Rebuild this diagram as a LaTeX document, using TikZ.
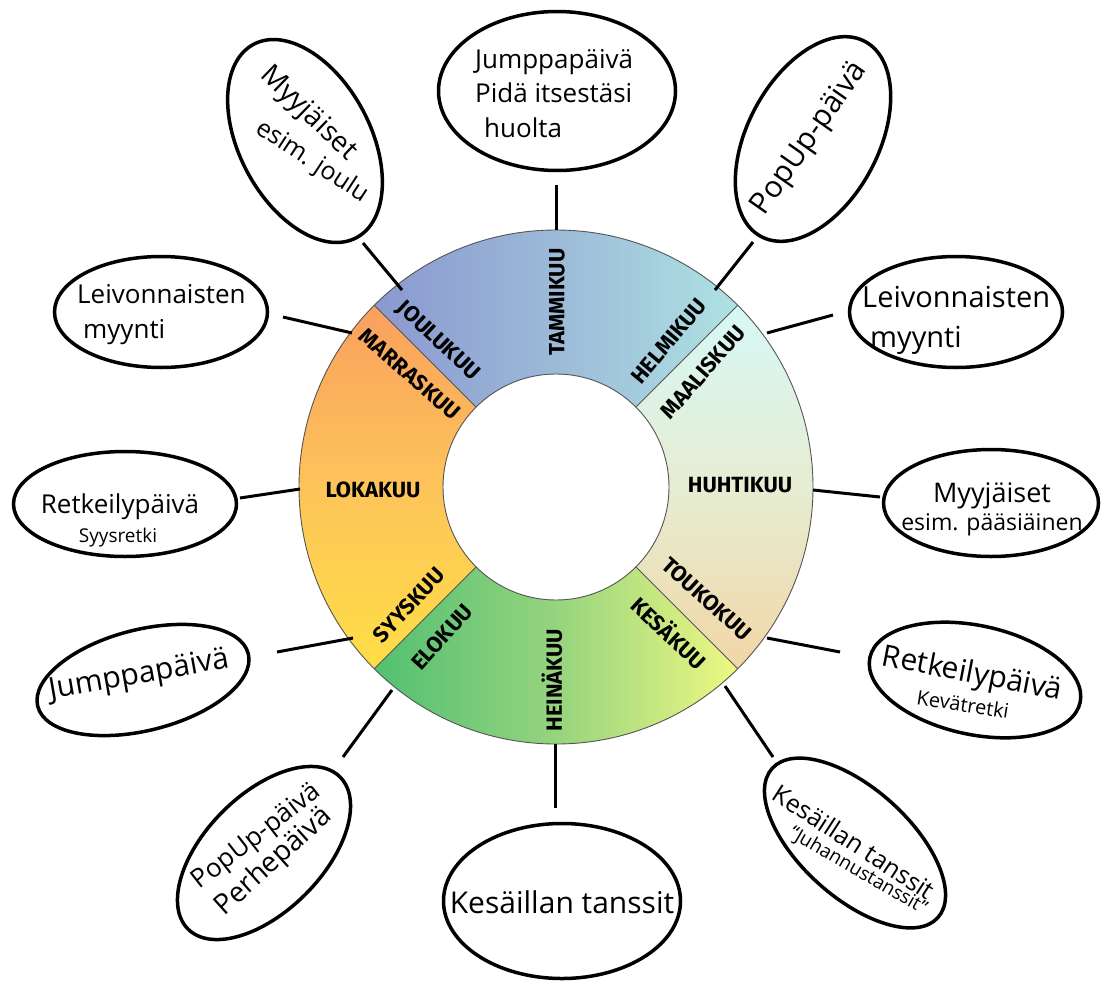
\documentclass[tikz,border=0pt]{standalone}
\usepackage{fontspec}
\setmainfont{Open Sans}
\newfontfamily\monthfont{Fira Sans}
\usetikzlibrary{shapes.geometric}
\definecolor{topL}{HTML}{8A98D0}
\definecolor{topM}{HTML}{9CBAD8}
\definecolor{topR}{HTML}{AEE2E2}
\definecolor{rgtT}{HTML}{D6F8F6}
\definecolor{rgtM}{HTML}{E6EDD2}
\definecolor{rgtB}{HTML}{F2D6A6}
\definecolor{botL}{HTML}{52C072}
\definecolor{botM}{HTML}{96D47E}
\definecolor{botR}{HTML}{EEF882}
\definecolor{lftT}{HTML}{F9A05E}
\definecolor{lftM}{HTML}{FDC45A}
\definecolor{lftB}{HTML}{FFDE46}
\definecolor{ringline}{HTML}{555555}
\begin{document}
\begin{tikzpicture}[x=1pt,y=1pt,
  bubble/.style={draw=black, line width=3.5pt, ellipse, inner sep=0pt},
  conn/.style={line width=3pt, black},
  month/.style={font=\monthfont\bfseries\fontsize{22}{22}\selectfont, inner sep=0pt},
  txt/.style={inner sep=0pt},
  sz/.style={font=\fontsize{#1}{#1}\selectfont}
]
\useasboundingbox (0,0) rectangle (1107,-982);
\fill[white] (0,0) rectangle (1107,-982);

% ring
\begin{scope}[shift={(556,-487)}]
\shade[left color=topL, right color=topR, middle color=topM]
  (45:257) arc[start angle=45,end angle=135,radius=257] -- (135:113) arc[start angle=135,end angle=45,radius=113] -- cycle;
\shade[top color=rgtT, bottom color=rgtB, middle color=rgtM]
  (-45:257) arc[start angle=-45,end angle=45,radius=257] -- (45:113) arc[start angle=45,end angle=-45,radius=113] -- cycle;
\shade[left color=botL, right color=botR, middle color=botM]
  (-135:257) arc[start angle=-135,end angle=-45,radius=257] -- (-45:113) arc[start angle=-45,end angle=-135,radius=113] -- cycle;
\shade[top color=lftT, bottom color=lftB, middle color=lftM]
  (135:257) arc[start angle=135,end angle=225,radius=257] -- (225:113) arc[start angle=225,end angle=135,radius=113] -- cycle;
\draw[ringline, line width=0.9pt] (0,0) circle[radius=257];
\draw[ringline, line width=0.9pt] (0,0) circle[radius=113];
\foreach \a in {45,135,225,315}
  \draw[ringline, line width=0.9pt] (\a:113) -- (\a:257);
\end{scope}

% month labels
\node[month, rotate=90]  (tam) at (557,-302) {TAMMIKUU};
\node[month, rotate=-43] (jou) at (438,-341) {JOULUKUU};
\node[month, rotate=-41] (mar) at (410,-374) {MARRASKUU};
\node[month]             (lok) at (373,-490) {LOKAKUU};
\node[month, rotate=47]  (syy) at (409,-605) {SYYSKUU};
\node[month, rotate=48]  (elo) at (442,-637) {ELOKUU};
\node[month, rotate=90]  (hei) at (552,-680) {HEINÄKUU};
\node[month, rotate=-43] (kes) at (670,-632) {KESÄKUU};
\node[month, rotate=-42] (tou) at (707,-599) {TOUKOKUU};
\node[month]             (huh) at (740,-485) {HUHTIKUU};
\node[month, rotate=49]  (maa) at (703,-372) {MAALISKUU};
\node[month, rotate=50]  (hel) at (669,-341) {HELMIKUU};

% connectors
\coordinate (c1o) at (556,-185);  \coordinate (c1i) at (556,-230);
\coordinate (c2o) at (363,-243);  \coordinate (c2i) at (402,-290);
\coordinate (c3o) at (283,-317);  \coordinate (c3i) at (352,-333);
\coordinate (c4o) at (753,-242);  \coordinate (c4i) at (715,-290);
\coordinate (c5o) at (833,-315);  \coordinate (c5i) at (767,-333);
\coordinate (c6o) at (240,-498);  \coordinate (c6i) at (300,-489);
\coordinate (c7o) at (277,-652);  \coordinate (c7i) at (353,-638);
\coordinate (c8o) at (343,-757);  \coordinate (c8i) at (392,-690);
\coordinate (c9o) at (555,-808);  \coordinate (c9i) at (555,-744);
\coordinate (c10o) at (773,-757); \coordinate (c10i) at (725,-686);
\coordinate (c11o) at (840,-652); \coordinate (c11i) at (767,-638);
\coordinate (c12o) at (880,-497); \coordinate (c12i) at (813,-490);
\foreach \i in {1,...,12} \draw[conn] (c\i o) -- (c\i i);

% bubbles
\node[bubble, minimum width=237pt, minimum height=159pt] (b1) at (557,-91) {};
\node[bubble, minimum width=219pt, minimum height=131pt, rotate=-62] (b2) at (305,-141) {};
\node[bubble, minimum width=213pt, minimum height=111pt] (b3) at (161,-312) {};
\node[bubble, minimum width=221pt, minimum height=131pt, rotate=62] (b4) at (813,-139) {};
\node[bubble, minimum width=213pt, minimum height=111pt] (b5) at (956,-312) {};
\node[bubble, minimum width=223pt, minimum height=105pt] (b6) at (125,-504) {};
\node[bubble, minimum width=217pt, minimum height=101pt, rotate=14] (b7) at (143,-680) {};
\node[bubble, minimum width=215pt, minimum height=117pt, rotate=45] (b8) at (264,-853) {};
\node[bubble, minimum width=237pt, minimum height=155pt] (b9) at (562,-901) {};
\node[bubble, minimum width=223pt, minimum height=109pt, rotate=-42] (b10) at (855,-843) {};
\node[bubble, minimum width=215pt, minimum height=109pt, rotate=-12] (b11) at (975,-680) {};
\node[bubble, minimum width=215pt, minimum height=107pt] (b12) at (991,-503) {};

% bubble texts
\node[txt, sz=26, anchor=base west] (t1a) at (475,-68) {Jumppapäivä};
\node[txt, sz=26, anchor=base west] (t1b) at (475,-102) {Pidä itsestäsi};
\node[txt, sz=26, anchor=base west] (t1c) at (484,-137) {huolta};

\node[txt, sz=28, rotate=-44] (t2a) at (308,-114) {Myyjäiset};
\node[txt, sz=25, rotate=-33] (t2b) at (312,-162) {esim. joulu};

\node[txt, sz=26, anchor=base west] (t3a) at (77,-303) {Leivonnaisten};
\node[txt, sz=26, anchor=base west] (t3b) at (83,-338) {myynti};

\node[txt, sz=30, rotate=55] (t4) at (810,-139) {PopUp-päivä};

\node[txt, sz=29, anchor=base west] (t5a) at (862,-307) {Leivonnaisten};
\node[txt, sz=29, anchor=base west] (t5b) at (870,-347) {myynti};

\node[txt, sz=26, anchor=base] (t6a) at (120,-513) {Retkeilypäivä};
\node[txt, sz=19, anchor=base] (t6b) at (118,-542) {Syysretki};

\node[txt, sz=30, rotate=10] (t7) at (139,-676) {Jumppapäivä};

\node[txt, sz=26, rotate=38] (t8a) at (257,-837) {PopUp-päivä};
\node[txt, sz=28, rotate=42] (t8b) at (274,-862) {Perhepäivä};

\node[txt, sz=30, anchor=base] (t9) at (562,-913) {Kesäillan tanssit};

\node[txt, sz=25, rotate=-33] (t10a) at (854,-842) {Kesäillan tanssit};
\node[txt, sz=19, rotate=-30] (t10b) at (858,-871) {“Juhannustanssit”};

\node[txt, sz=30, rotate=-11] (t11a) at (972,-675) {Retkeilypäivä};
\node[txt, sz=20, rotate=-9] (t11b) at (963,-704) {Kevätretki};

\node[txt, sz=27, anchor=base] (t12a) at (992,-502) {Myyjäiset};
\node[txt, sz=23, anchor=base] (t12b) at (992,-530) {esim. pääsiäinen};
\end{tikzpicture}
\end{document}
